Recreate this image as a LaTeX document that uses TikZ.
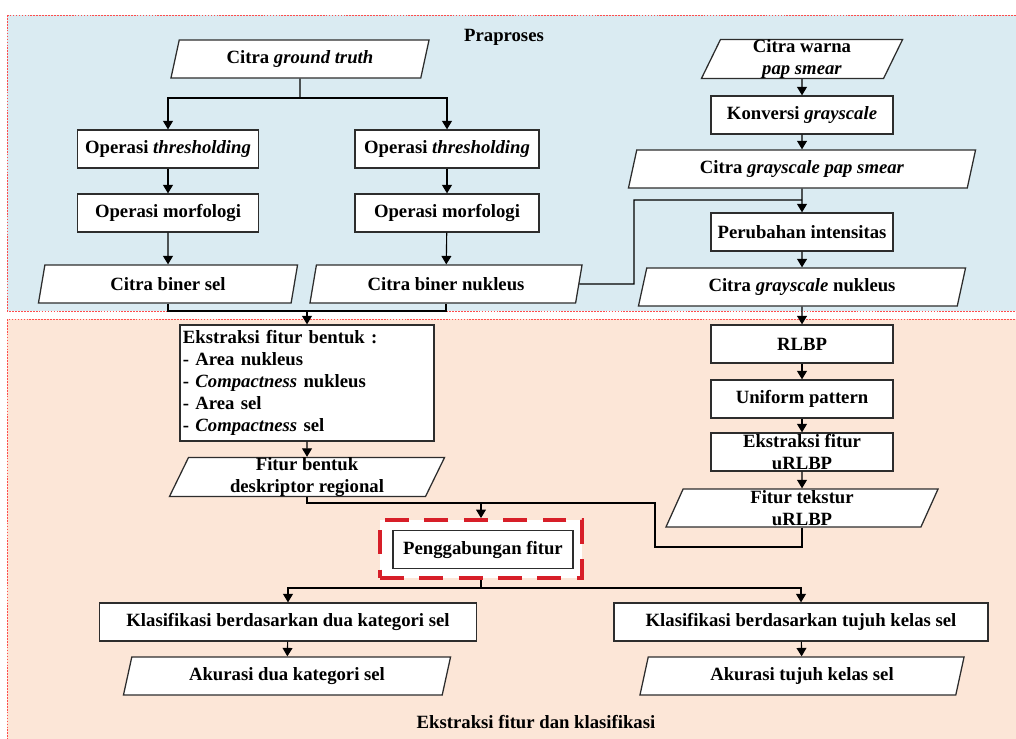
\documentclass[tikz,border=0pt]{standalone}
\usepackage{xcolor}
\usepackage{fontspec}
\setmainfont{Liberation Serif}
\usepackage{tikz}
\usetikzlibrary{calc}
\usetikzlibrary{arrows.meta}
\usetikzlibrary{shapes.geometric}

\definecolor{prapanel}{RGB}{218,235,242}
\definecolor{klaspanel}{RGB}{252,230,215}
\definecolor{garis}{RGB}{45,45,45}
\definecolor{merah}{RGB}{215,30,40}

\tikzstyle{every node}=[font=\fontsize{13.3}{15.6}\selectfont\bfseries]
\tikzstyle{proses}=[rectangle, draw=garis, line width=0.9pt, fill=white, minimum height=0.95cm, inner sep=1pt]
\tikzstyle{data}=[trapezium, trapezium left angle=64, trapezium right angle=116, trapezium stretches body, draw=garis, line width=0.9pt, fill=white, minimum height=0.95cm, inner sep=0pt, align=center]
\tikzstyle{panel}=[draw=red!70, line width=0.5pt, dash pattern=on 1.2pt off 0.9pt]
\tikzstyle{panah}=[-{Triangle[length=6pt,width=7pt]}, line width=0.8pt]

\begin{document}
\begin{tikzpicture}[x=0.025cm, y=-0.025cm]
            \useasboundingbox (0,0) rectangle (1016,738);

            % latar panel
            \draw [panel, fill=prapanel] (7,15) rectangle (1017,311);
            \draw [panel, fill=klaspanel] (7,319) rectangle (1017,740);
            \node (praproses) at (504,37) {Praproses};
            \node (ekskla) at (536,722) {Ekstraksi fitur dan klasifikasi};

            % praproses: ground truth
            \node [data, minimum width=6.45cm] (gt) at (300,59) {Citra \textit{ground truth}};
            \node [proses, minimum width=4.525cm] (thrL) at (168,149) {Operasi \textit{thresholding}};
            \node [proses, minimum width=4.525cm] (morL) at (168,213) {Operasi morfologi};
            \node [data, minimum width=6.475cm] (binS) at (168,284) {Citra biner sel};
            \node [proses, minimum width=4.6cm] (thrR) at (447,149) {Operasi \textit{thresholding}};
            \node [proses, minimum width=4.6cm] (morR) at (447,213) {Operasi morfologi};
            \node [data, minimum width=6.8cm] (binN) at (446,284) {Citra biner nukleus};

            % praproses: citra warna
            \node [data, minimum width=5.025cm] (warna) at (802,59) {Citra warna\\\textit{pap smear}};
            \node [proses, minimum width=4.55cm] (konv) at (802,115) {Konversi \textit{grayscale}};
            \node [data, minimum width=8.675cm] (grayPS) at (802,169) {Citra \textit{grayscale pap smear}};
            \node [proses, minimum width=4.55cm] (perub) at (802,232) {Perubahan intensitas};
            \node [data, minimum width=8.175cm] (grayN) at (802,287) {Citra \textit{grayscale} nukleus};

            % ekstraksi fitur
            \node [proses, minimum width=6.35cm, minimum height=2.9cm, text width=6.2cm, align=left] (ekstB) at (307,383)
                {Ekstraksi fitur bentuk :\\- Area nukleus\\- \textit{Compactness} nukleus\\- Area sel\\- \textit{Compactness} sel};
            \node [data, minimum width=6.875cm] (fbentuk) at (307,477) {Fitur bentuk\\deskriptor regional};
            \node [proses, minimum width=4.55cm] (rlbp) at (802,344) {RLBP};
            \node [proses, minimum width=4.55cm] (unif) at (802,399) {Uniform pattern};
            \node [proses, minimum width=4.55cm, inner sep=0pt, align=center] (ekstU) at (802,452) {Ekstraksi fitur\\uRLBP};
            \node [data, minimum width=6.8cm] (ftekstur) at (802,508) {Fitur tekstur\\uRLBP};

            \node [draw=merah, line width=2.8pt, dash pattern=on 17pt off 11pt, fill=white, minimum width=5.05cm, minimum height=1.45cm] (gabungF) at (481,549) {};
            \node [proses, minimum width=4.5cm] (gabung) at (483,549.5) {Penggabungan fitur};

            % klasifikasi
            \node [proses, minimum width=9.425cm] (klas2) at (288,622) {Klasifikasi berdasarkan dua kategori sel};
            \node [proses, minimum width=9.35cm] (klas7) at (801,622) {Klasifikasi berdasarkan tujuh kelas sel};
            \node [data, minimum width=8.175cm] (aku2) at (287,676) {Akurasi dua kategori sel};
            \node [data, minimum width=8.1cm] (aku7) at (802,676) {Akurasi tujuh kelas sel};

            % penghubung
            \coordinate (jGT) at (300,98);
            \draw [line width=0.8pt] (gt.south) -- (jGT);
            \draw [panah] (jGT) -| (thrL.north);
            \draw [panah] (jGT) -| (thrR.north);
            \draw [panah] (thrL) -- (morL);
            \draw [panah] (morL) -- (binS);
            \draw [panah] (thrR) -- (morR);
            \draw [panah] (morR) -- (binN);

            \coordinate (jBin) at (ekstB.north |- 0,311);
            \draw [line width=0.8pt] (binS.south) |- (jBin) -| (binN.south);
            \draw [panah] (jBin) -- (ekstB.north);

            \draw [panah] (warna) -- (konv);
            \draw [panah] (konv) -- (grayPS);
            \draw [panah] (grayPS) -- (perub);
            \coordinate (jInt) at (perub.north |- 0,200);
            \draw [line width=0.8pt] (binN.east) -- (634,284) |- (jInt);
            \draw [panah] (perub) -- (grayN);
            \draw [panah] (grayN) -- (rlbp);
            \draw [panah] (rlbp) -- (unif);
            \draw [panah] (unif) -- (ekstU);
            \draw [panah] (ekstU) -- (ftekstur);
            \draw [panah] (ekstB) -- (fbentuk);

            \coordinate (jFit) at (gabungF.north |- 0,503);
            \draw [line width=0.8pt] (fbentuk.south) |- (jFit);
            \draw [line width=0.8pt] (ftekstur.south) |- (655,547) |- (jFit);
            \draw [panah] (jFit) -- (gabungF.north);

            \coordinate (jKla) at (gabungF.south |- 0,588);
            \draw [line width=0.8pt] (gabungF.south) -- (jKla);
            \draw [panah] (jKla) -| (klas2.north);
            \draw [panah] (jKla) -| (klas7.north);
            \draw [panah] (klas2) -- (aku2);
            \draw [panah] (klas7) -- (aku7);
\end{tikzpicture}
\end{document}
